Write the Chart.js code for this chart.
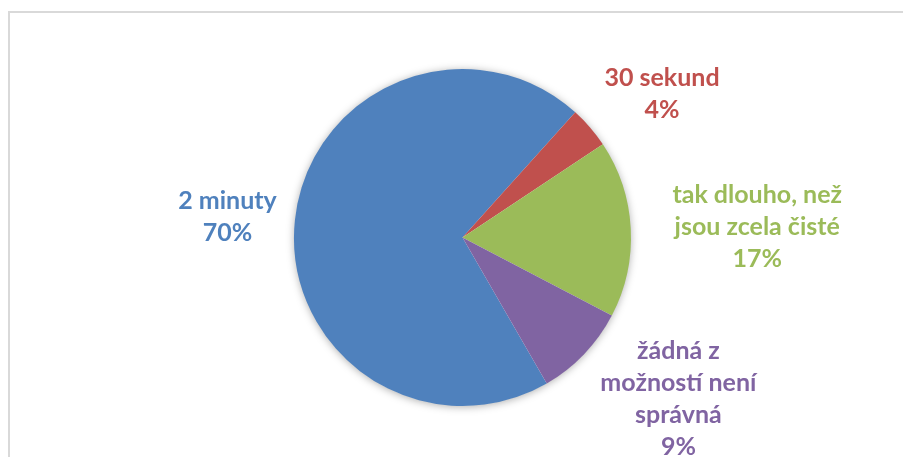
<!DOCTYPE html>
<html>
<head>
<meta charset="utf-8">
<script src="https://cdn.jsdelivr.net/npm/chart.js@4.4.0/dist/chart.umd.min.js"></script>
<style>
  html, body { margin: 0; padding: 0; background: #fff; }
  #wrap { position: relative; width: 903px; height: 457px; overflow: hidden; }
  #frame { position: absolute; left: 8px; top: 11px; width: 1000px; height: 600px;
           border-left: 2px solid #d9d9d9; border-top: 2px solid #d9d9d9; }
  canvas { position: absolute; left: 0; top: 0; }
</style>
</head>
<body>
<div id="wrap">
  <div id="frame"></div>
  <canvas id="pie" width="903" height="457"></canvas>
</div>
<script>
// answers to the question, in drawing order (clockwise)
const categories = [
  '2 minuty',
  '30 sekund',
  ['tak dlouho, než', 'jsou zcela čisté'],
  ['žádná z', 'možností není', 'správná']
];
const shares = [70, 4, 17, 9];
const sliceColors = ['#4f81bd', '#c0504d', '#9bbb59', '#8064a2'];

// where each label sits: distance from centre (in radii) and a small turn off the slice middle (deg)
const labelSpots = [
  { dist: 1.40, turn: -1 },
  { dist: 1.46, turn: 5 },
  { dist: 1.75, turn: 1 },
  { dist: 1.60, turn: -7 }
];

// soft glow under the whole pie
const pieShadow = {
  id: 'pieShadow',
  beforeDatasetsDraw(chart) {
    const arc = chart.getDatasetMeta(0).data[0];
    if (!arc) return;
    const { x, y, outerRadius } = arc.getProps(['x', 'y', 'outerRadius'], true);
    const ctx = chart.ctx;
    ctx.save();
    ctx.shadowColor = 'rgba(0,0,0,0.35)';
    ctx.shadowBlur = 9;
    ctx.shadowOffsetX = 0;
    ctx.shadowOffsetY = 1;
    ctx.fillStyle = '#ffffff';
    ctx.beginPath();
    ctx.arc(x, y, outerRadius - 0.5, 0, Math.PI * 2);
    ctx.fill();
    ctx.restore();
  }
};

// category + percentage written outside each slice
const outsideLabels = {
  id: 'outsideLabels',
  afterDatasetsDraw(chart) {
    const ctx = chart.ctx;
    const meta = chart.getDatasetMeta(0);
    const values = chart.data.datasets[0].data;
    const total = values.reduce((a, b) => a + b, 0);
    const lineH = 32;
    ctx.save();
    ctx.font = 'bold 25px Lato';
    ctx.textAlign = 'center';
    ctx.textBaseline = 'middle';
    meta.data.forEach((arc, i) => {
      const p = arc.getProps(['x', 'y', 'startAngle', 'endAngle', 'outerRadius'], true);
      const spot = labelSpots[i];
      const mid = (p.startAngle + p.endAngle) / 2 + spot.turn * Math.PI / 180;
      const cx = p.x + Math.cos(mid) * p.outerRadius * spot.dist;
      const cy = p.y + Math.sin(mid) * p.outerRadius * spot.dist;
      const name = chart.data.labels[i];
      const lines = (Array.isArray(name) ? name.slice() : [name]);
      lines.push(Math.round(values[i] / total * 100) + '%');
      ctx.fillStyle = sliceColors[i];
      lines.forEach((t, k) => {
        ctx.fillText(t, cx, cy + (k - (lines.length - 1) / 2) * lineH);
      });
    });
    ctx.restore();
  }
};

new Chart(document.getElementById('pie'), {
  type: 'pie',
  data: {
    labels: categories,
    datasets: [{
      data: shares,
      backgroundColor: sliceColors,
      borderWidth: 0
    }]
  },
  options: {
    responsive: false,
    animation: false,
    rotation: 150,
    layout: { padding: { left: 294, right: 272, top: 69, bottom: 51 } },
    plugins: {
      legend: { display: false },
      tooltip: { enabled: false }
    }
  },
  plugins: [pieShadow, outsideLabels]
});
</script>
</body>
</html>
